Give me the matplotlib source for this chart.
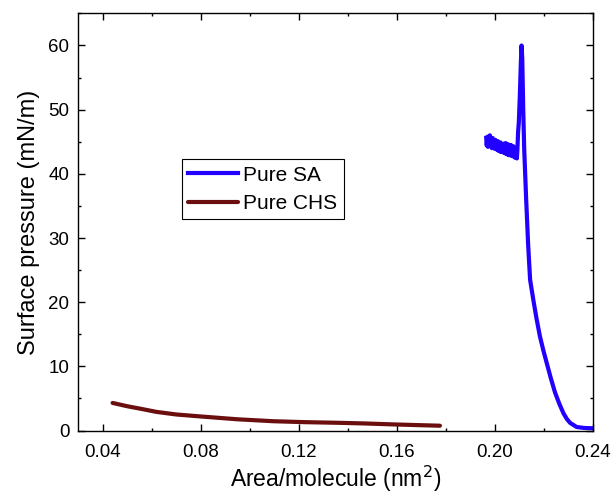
import numpy as np
import matplotlib
matplotlib.use("Agg")
import matplotlib.pyplot as plt
from matplotlib.ticker import MultipleLocator

plt.rcParams['font.family'] = ['Liberation Sans', 'DejaVu Sans']

# Pure SA isotherm
sa_area = [0.1965, 0.1967, 0.1970, 0.1972, 0.1975, 0.1978, 0.1980, 0.1983, 0.1986,
           0.1988, 0.1991, 0.1994, 0.1996, 0.1999, 0.2002, 0.2004, 0.2007, 0.2010,
           0.2012, 0.2015, 0.2018, 0.2020, 0.2023, 0.2026, 0.2028, 0.2031, 0.2034,
           0.2036, 0.2039, 0.2042, 0.2044, 0.2047, 0.2050, 0.2052, 0.2055, 0.2058,
           0.2060, 0.2063, 0.2066, 0.2068, 0.2071, 0.2074, 0.2076, 0.2079, 0.2082,
           0.2084, 0.2087, 0.2090, 0.2092, 0.2095, 0.2098, 0.2102,
           0.2106, 0.2109, 0.2112, 0.2116, 0.2120, 0.2128, 0.2136, 0.2144, 0.2157,
           0.2170, 0.2184, 0.2198, 0.2212, 0.2229, 0.2246, 0.2263, 0.2280, 0.2294,
           0.2307, 0.2334, 0.2365, 0.2400]
sa_pressure = [45.6, 44.4, 45.8, 44.2, 45.4, 44.6, 46.0, 44.3, 45.5,
               44.0, 45.6, 44.1, 45.2, 43.9, 45.3, 44.0, 45.0, 43.7,
               45.1, 43.6, 44.8, 43.5, 44.9, 43.4, 44.6, 43.4, 44.7,
               43.3, 44.5, 43.2, 44.8, 43.1, 44.4, 43.0, 44.6, 42.9,
               44.2, 43.0, 44.5, 42.8, 44.1, 42.8, 44.3, 42.6, 44.0,
               42.5, 43.8, 42.4, 43.6, 46.5, 48.0, 52.0,
               57.0, 60.0, 58.0, 50.0, 43.8, 36.0, 29.0, 23.5, 20.4,
               17.5, 14.7, 12.5, 10.5, 8.1, 5.9, 4.2, 2.7, 1.8,
               1.2, 0.55, 0.4, 0.35]

# Pure CHS isotherm
chs_area = [0.0440, 0.0498, 0.0560, 0.0620, 0.0700, 0.0797, 0.0950, 0.1096,
            0.1230, 0.1368, 0.1470, 0.1572, 0.1680, 0.1776]
chs_pressure = [4.3, 3.8, 3.35, 2.9, 2.5, 2.2, 1.75, 1.45,
                1.3, 1.2, 1.1, 0.97, 0.85, 0.75]

x_ticks = [0.04, 0.08, 0.12, 0.16, 0.20, 0.24]
x_ticklabels = ['0.04', '0.08', '0.12', '0.16', '0.20', '0.24']

fig = plt.figure(figsize=(6.14, 4.96), dpi=100)
ax = fig.add_axes([0.1275, 0.132, 0.838, 0.841])

ax.plot(sa_area, sa_pressure, color='#2100ff', lw=3.0, label='Pure SA',
        solid_joinstyle='round')
ax.plot(chs_area, chs_pressure, color='#6a0e0e', lw=3.0, label='Pure CHS',
        solid_capstyle='round')

ax.set_xlim(0.03, 0.24)
ax.set_ylim(0, 65)
ax.xaxis.set_minor_locator(MultipleLocator(0.02))
ax.yaxis.set_major_locator(MultipleLocator(10))
ax.yaxis.set_minor_locator(MultipleLocator(5))
ax.set_xticks(x_ticks)
ax.set_xticklabels(x_ticklabels)

ax.tick_params(which='both', direction='in', top=True, right=True,
               labelsize=13.5, width=1.0)
ax.tick_params(axis='x', pad=9.5)
ax.tick_params(axis='y', pad=6.5)
ax.tick_params(which='major', length=5)
ax.tick_params(which='minor', length=2.5)
for s in ax.spines.values():
    s.set_linewidth(1.0)

ax.set_xlabel('Area/molecule (nm$^2$)', fontsize=16.5, labelpad=2)
ax.set_ylabel('Surface pressure (mN/m)', fontsize=17, labelpad=6)

leg = ax.legend(loc='upper left', bbox_to_anchor=(0.201, 0.650), borderaxespad=0,
                fontsize=15, frameon=True, fancybox=False, framealpha=1,
                edgecolor='black', handlelength=2.4, handletextpad=0.25,
                borderpad=0.3, labelspacing=0.45)
leg.get_frame().set_linewidth(0.8)

fig.savefig('out.png', dpi=100)
